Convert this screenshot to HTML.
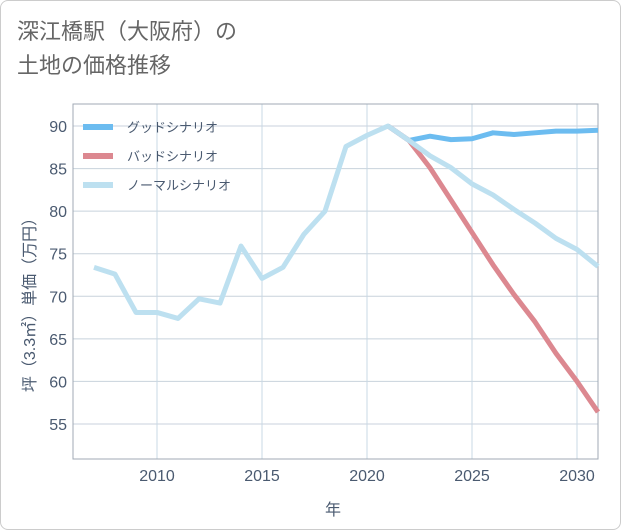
<!DOCTYPE html>
<html><head><meta charset="utf-8"><style>
body{margin:0;background:#fff;font-family:"Liberation Sans","Noto Sans CJK JP",sans-serif;}
#card{position:absolute;left:0;top:0;width:619px;height:528px;border:1px solid #ccc;border-radius:8px;background:#fff;}
#title{position:absolute;left:16px;top:14px;font-size:22px;line-height:34px;color:#666;}
</style></head><body>
<div id="card">
<div id="title">深江橋駅（大阪府）の<br>土地の価格推移</div>
<svg id="chart" width="621" height="530" style="position:absolute;left:0;top:0"></svg>
</div>
<script>
const years=[2007,2008,2009,2010,2011,2012,2013,2014,2015,2016,2017,2018,2019,2020,2021,2022,2023,2024,2025,2026,2027,2028,2029,2030,2031];
const normalVals=[73.4,72.6,68.1,68.1,67.4,69.7,69.2,75.9,72.1,73.4,77.3,80.0,87.6,88.9,90.0,88.3,86.5,85.1,83.2,81.9,80.2,78.6,76.8,75.5,73.5];
const goodYears=[2021,2022,2023,2024,2025,2026,2027,2028,2029,2030,2031];
const goodVals=[90.0,88.3,88.8,88.4,88.5,89.2,89.0,89.2,89.4,89.4,89.5];
const badYears=[2021,2022,2023,2024,2025,2026,2027,2028,2029,2030,2031];
const badVals=[90.0,88.3,85.1,81.3,77.5,73.7,70.2,67.0,63.3,60.0,56.4];
const xTicks=[2010,2015,2020,2025,2030];
const yTicks=[55,60,65,70,75,80,85,90];
const legendLabels=["グッドシナリオ","バッドシナリオ","ノーマルシナリオ"];
const NS="http://www.w3.org/2000/svg";
const svg=document.getElementById('chart');
const L=72,R=597,T=103,B=458;
const X=y=>L+(y-2006)/(2031-2006)*(R-L);
const Y=v=>125+(90-v)*(423-125)/35;
function mk(t,a){const e=document.createElementNS(NS,t);for(const k in a)e.setAttribute(k,a[k]);svg.appendChild(e);return e;}
let e;
for(const v of yTicks){
 e=mk('line',{x1:L,x2:R,y1:Y(v),y2:Y(v),stroke:'#c8d2dc','stroke-width':1});
 
 
 e=mk('text',{x:L-6,y:Y(v)+6,'text-anchor':'end','font-size':16,fill:'#4a5a70'});e.textContent=v;
 
 
}
for(const t of xTicks){
 e=mk('line',{x1:X(t),x2:X(t),y1:T,y2:B,stroke:'#c8d8e4','stroke-width':1});
 
 
 e=mk('text',{x:X(t),y:B+22,'text-anchor':'middle','font-size':16,fill:'#4a5a70'});e.textContent=t;
 
 
}
e=mk('rect',{x:L,y:T,width:R-L,height:B-T,fill:'none',stroke:'#a0aab4','stroke-width':1});


function line(xs,vs,c,name){
 const p=mk('polyline',{points:xs.map((y,i)=>X(y)+','+Y(vs[i])).join(' '),fill:'none',stroke:c,'stroke-width':5,'stroke-linejoin':'round'});
 
 
}
line(goodYears,goodVals,'#6cbcf0','good-scenario-line');
line(badYears,badVals,'#dc8890','bad-scenario-line');
line(years,normalVals,'#bde0f0','normal-scenario-line');
const lc=['#6cbcf0','#dc8890','#bde0f0'];
legendLabels.forEach((s,i)=>{
 const y=126+i*29;
 let r=mk('rect',{x:82,y:y-3,width:30,height:6,fill:lc[i]});
 
 
 let t=mk('text',{x:126,y:y+5,'font-size':13,fill:'#4a5a70'});t.textContent=s;
 
 
});
e=mk('text',{x:332,y:514,'text-anchor':'middle','font-size':16,fill:'#4a5a70'});e.textContent='年';


e=mk('text',{x:0,y:0,'text-anchor':'middle','font-size':16,fill:'#4a5a70',transform:'translate(34,300) rotate(-90)'});e.textContent='坪（3.3㎡）単価（万円）';


</script>
</body></html>
